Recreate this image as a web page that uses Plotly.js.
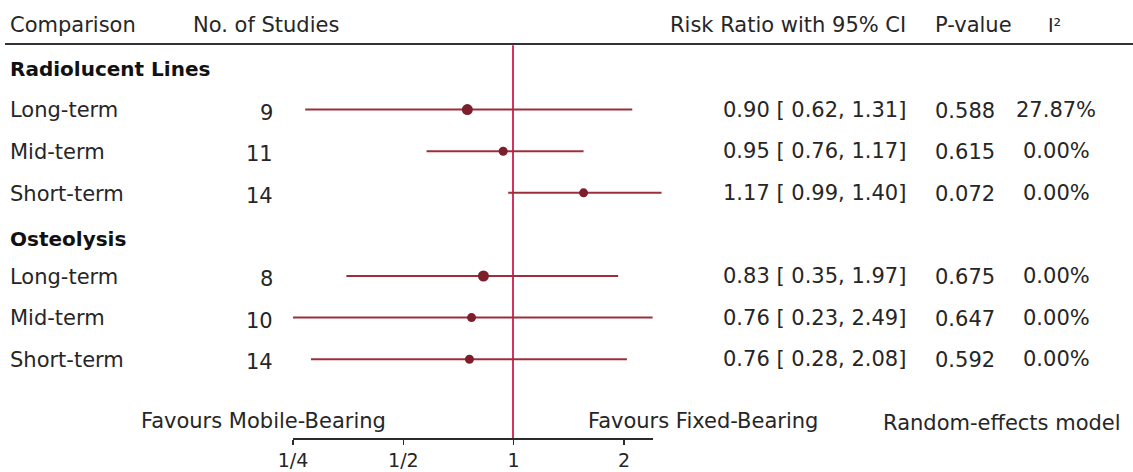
<!DOCTYPE html>
<html>
<head>
<meta charset="utf-8">
<script src="https://cdn.plot.ly/plotly-3.0.1.min.js"></script>
<style>html,body{margin:0;padding:0;background:#fff;}#chart{width:1133px;height:472px;}</style>
</head>
<body>
<div id="chart"></div>
<script>
// ---- data ----
const groups = ['Radiolucent Lines', 'Osteolysis'];
const comparisons = ['Long-term', 'Mid-term', 'Short-term', 'Long-term', 'Mid-term', 'Short-term'];
const groupIndex = [0, 0, 0, 1, 1, 1];
const nStudies = [9, 11, 14, 8, 10, 14];
// plotted marks (on the drawn risk-ratio axis)
const estimate = [0.75, 0.94, 1.56, 0.83, 0.77, 0.76];
const ciLower  = [0.27, 0.58, 0.97, 0.35, 0.25, 0.28];
const ciUpper  = [2.12, 1.56, 2.55, 1.94, 2.41, 2.05];
// printed columns
const rrText = ['0.90 [ 0.62, 1.31]', '0.95 [ 0.76, 1.17]', '1.17 [ 0.99, 1.40]',
                '0.83 [ 0.35, 1.97]', '0.76 [ 0.23, 2.49]', '0.76 [ 0.28, 2.08]'];
const pValues = ['0.588', '0.615', '0.072', '0.675', '0.647', '0.592'];
const i2Values = ['27.87%', '0.00%', '0.00%', '0.00%', '0.00%', '0.00%'];
const headers = ['Comparison', 'No. of Studies', 'Risk Ratio with 95% CI', 'P-value', 'I²'];
const tickVals = [0.25, 0.5, 1, 2];
const tickText = ['1/4', '1/2', '1', '2'];
const favoursLeft = 'Favours Mobile-Bearing';
const favoursRight = 'Favours Fixed-Bearing';
const modelText = 'Random-effects model';

// ---- styles ----
const W = 1133, H = 472;
const FONT = 'DejaVu Sans';
const TXT = '#262626';
const markerSize = [11, 9, 9, 11, 9, 9];
const ciColor = '#9c2f3b';
const ptColor = '#7d1f2a';
const refColor = '#d2345c';

// row layout (row units, header = -1)
const rowOf = [];
const groupRow = [];
let k = 0;
groups.forEach((g, gi) => {
  groupRow.push(k);
  k++;
  comparisons.forEach((c, i) => { if (groupIndex[i] === gi) { rowOf[i] = k; k++; } });
});

const px = v => v / W;

// CI lines
const ciX = [], ciY = [];
estimate.forEach((e, i) => { ciX.push(ciLower[i], ciUpper[i], null); ciY.push(rowOf[i], rowOf[i], null); });

const traces = [
  {type: 'scatter', mode: 'markers', x: [1], y: [rowOf[0]], xaxis: 'x2', yaxis: 'y',
   marker: {opacity: 0}, hoverinfo: 'skip', showlegend: false},
  {type: 'scatter', mode: 'lines', x: ciX, y: ciY, xaxis: 'x', yaxis: 'y',
   line: {color: ciColor, width: 2}, hoverinfo: 'skip', showlegend: false},
  {type: 'scatter', mode: 'markers', x: estimate, y: rowOf, xaxis: 'x', yaxis: 'y',
   marker: {color: ptColor, size: markerSize, opacity: 1, line: {width: 0}}, hoverinfo: 'skip', showlegend: false, cliponaxis: false}
];

const ann = [];
function A(text, xPix, row, anchor, opts) {
  ann.push(Object.assign({text: text, xref: 'paper', x: px(xPix), yref: 'y', y: row,
    xanchor: anchor, yanchor: 'middle', showarrow: false,
    font: {family: FONT, size: 21, color: TXT}}, opts || {}));
}
// header
A(headers[0], 8, -1.04, 'left');
A(headers[1], 191, -1.04, 'left');
A(headers[2], 908, -1.04, 'right');
A(headers[3], 933, -1.04, 'left');
A(headers[4], 1054, -1.04, 'center', {font: {family: FONT, size: 19, color: TXT}});
// groups
groups.forEach((g, gi) => A('<b>' + g + '</b>', 8, groupRow[gi] + (gi ? 0.1 : 0.02), 'left', {font: {family: FONT, size: 20, color: '#111'}}));
// rows
comparisons.forEach((c, i) => {
  const r = rowOf[i];
  A(c, 8, r + 0.02, 'left');
  A(String(nStudies[i]), 275, r + 0.07, 'right');
  A(rrText[i], 908, r, 'right');
  A(pValues[i], 933, r + 0.03, 'left');
  A(i2Values[i], 1056, r, 'center');
});
// footer
A(favoursLeft, 139, 8.49, 'left');
A(favoursRight, 586, 8.49, 'left');
A(modelText, 881, 8.54, 'left');

const rowTop = -1.635, rowBot = 8.894;
const hdrLineY = 1 - 44 / 438;

const layout = {
  width: W, height: H,
  margin: {l: 0, r: 0, t: 0, b: 34, pad: 0},
  paper_bgcolor: '#fff', plot_bgcolor: 'rgba(0,0,0,0)',
  showlegend: false,
  font: {family: FONT, size: 21, color: TXT},
  xaxis: {type: 'log', range: [-1.4039, 1.6967], visible: false, fixedrange: true, domain: [0, 1]},
  xaxis2: {type: 'log', range: [Math.log10(0.25), Math.log10(2.4)], domain: [293 / W, 653 / W],
    anchor: 'y', side: 'bottom', showline: true, linecolor: '#2b2b2b', linewidth: 1.5,
    ticks: 'outside', ticklen: 5, tickwidth: 1.5, tickcolor: '#2b2b2b',
    tickmode: 'array', tickvals: tickVals, ticktext: tickText, showgrid: false, zeroline: false,
    tickfont: {family: FONT, size: 19, color: TXT}, ticklabelstandoff: 0, fixedrange: true},
  yaxis: {range: [rowBot, rowTop], visible: false, fixedrange: true, domain: [0, 1]},
  shapes: [
    {type: 'line', xref: 'paper', yref: 'paper', x0: 5 / W, x1: 1, y0: hdrLineY, y1: hdrLineY,
     line: {color: '#333', width: 2}},
    {type: 'line', xref: 'x', yref: 'y', x0: 1, x1: 1, y0: -0.55, y1: rowBot, line: {color: refColor, width: 2}, layer: 'below'}
  ],
  annotations: ann
};

Plotly.newPlot('chart', traces, layout, {staticPlot: true, displayModeBar: false});
</script>
</body>
</html>
